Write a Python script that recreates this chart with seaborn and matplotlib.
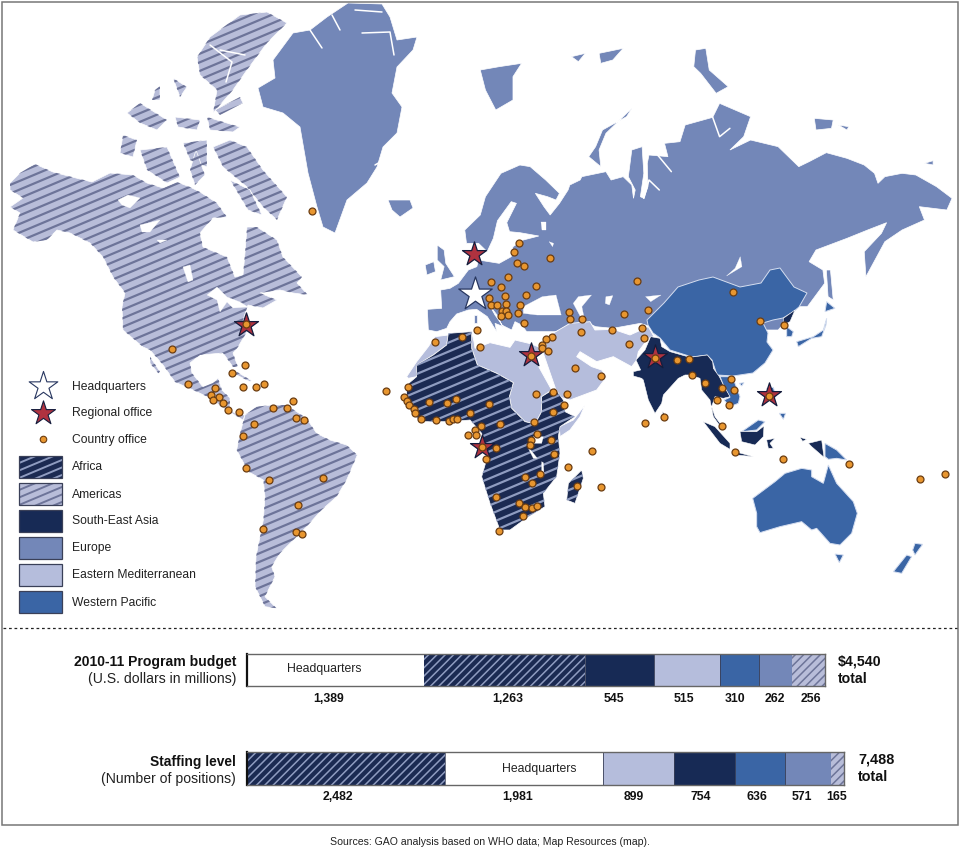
import matplotlib
matplotlib.use("Agg")
import matplotlib.pyplot as plt
import numpy as np
import pandas as pd
import seaborn as sns
from matplotlib.collections import LineCollection
from matplotlib.patches import PathPatch, Polygon, Rectangle
from matplotlib.path import Path

# ---------- data ----------
budget_regions = ["Headquarters", "Africa", "South-East Asia", "Eastern Mediterranean", "Western Pacific", "Europe", "Americas"]
budget_values = [1389, 1263, 545, 515, 310, 262, 256]
budget_label_x = [329, 508, 614, 684, 735, 775, 811]
staff_regions = ["Africa", "Headquarters", "Eastern Mediterranean", "South-East Asia", "Western Pacific", "Europe", "Americas"]
staff_values = [2482, 1981, 899, 754, 636, 571, 165]
staff_label_x = [338, 518, 634, 701, 757, 802, 837]
legend_labels = ["Africa", "Americas", "South-East Asia", "Europe", "Eastern Mediterranean", "Western Pacific"]

hq_office = [(475, 294)]
regional_offices = [(474, 254), (531, 355), (482, 447), (655, 357), (769, 395), (246, 325)]

# country offices, read in three crops of the map
offices_africa_eur = [(358,68),(342,97),(450,113),(352,128),(371,139),(272,185),(325,171),(303,201),(407,197),(711,184),(314,229),(377,225),(268,235),(273,254),(291,255),(317,252),(359,255),(305,272),(318,272),(353,278),(324,284),(302,288),(507,277),(510,297),(545,296),(673,281),(745,271),(373,310),(231,331),(543,337),(637,331),(726,324),(732,354),(185,350),(104,366),(240,380),(455,351),(437,358),(427,374),(427,385),(444,394),(393,407),(688,373),(524,445),(604,468),(24,502),(12,530),(21,542),(27,555),(41,568),(45,578),(88,546),(140,550),(169,538),(268,552),(409,523),(459,516),(501,523),(492,555),(458,576),(210,578),(64,598),(109,599),(148,604),(160,598),(172,596),(243,618),(300,612),(401,607),(225,630),(227,645),(205,646),(245,682),(411,642),(394,659),(453,659),(391,675),(288,685),(463,701),(257,716),(504,740),(575,693),(375,770),(420,761),(396,790),(530,799),(603,801),(288,832),(358,849),(375,860),(397,863),(410,859),(370,888),(298,933),(830,420),(867,417),(877,465),(736,608),(792,590),(765,413)]
offices_americas = [(67,28),(285,76),(245,98),(113,131),(280,141),(319,140),(341,132),(196,145),(183,164),(207,170),(190,180),(219,189),(233,209),(268,216),(430,182),(368,203),(411,205),(438,233),(463,240),(313,251),(278,289),(288,384),(358,421),(519,414),(443,494),(338,567),(437,577),(455,581),(708,152)]
offices_asia = [(420,63),(492,75),(254,250),(334,237),(307,263),(341,269),(290,300),(327,316),(305,377),(344,457),(490,477),(688,491),(899,536),(974,523),(447,287)]
offices_px = [(312, 211), (246, 324), (733, 292)]

# ---------- crop-to-picture helpers ----------
def c3(p): return [(400 + x / 3, 220 + y / 3) for x, y in p]
def c5(p): return [(150 + x / 3, 340 + y / 3) for x, y in p]
def c6(p): return [(420 + x / 2.904, 30 + y / 3) for x, y in p]
def c7(p): return [(620 + x / 3, 300 + y / 3) for x, y in p]

# ---------- map outlines ----------
americas_shapes = [
    [(10,183),(20,173),(35,164),(53,172),(72,177),(92,182),(110,173),(133,175),(147,183),(163,188),(177,182),(190,187),(200,192),(217,203),(227,217),(213,218),(200,233),(203,247),(227,257),(235,277),(243,275),(245,253),(247,227),(257,227),(277,240),(283,257),(302,277),(297,283),(308,295),(293,293),(280,290),(260,293),(277,300),(263,308),(248,305),(243,320),(248,330),(238,347),(233,353),(238,367),(233,367),(223,353),(200,355),(190,363),(192,373),(203,387),(213,383),(218,378),(222,390),(230,398),(230,410),(238,415),(245,415),(243,420),(223,408),(210,398),(193,390),(175,382),(163,365),(150,350),(143,347),(123,330),(122,307),(125,293),(113,277),(103,257),(90,243),(70,233),(57,230),(47,240),(33,242),(13,230),(20,213),(10,207),(23,198),(10,190)],
    [(213,147),(230,140),(247,147),(263,170),(287,197),(277,220),(263,207),(247,187),(223,167)],
    [(120,153),(123,135),(137,140),(133,157)],
    [(140,150),(167,147),(180,177),(167,183),(147,170)],
    [(183,143),(207,140),(207,167),(190,160)],
    [(127,113),(140,103),(167,120),(157,130),(140,123)],
    [(207,117),(240,127),(233,132),(210,130)],
    [(175,117),(200,120),(197,130),(178,127)],
    [(215,110),(240,97),(243,103),(220,115)],
    [(173,78),(187,87),(180,97)],
    [(155,90),(160,86),(160,100),(152,100)],
    [(197,57),(210,37),(240,15),(267,12),(287,23),(267,43),(247,70),(233,90),(213,113),(217,90),(200,75)],
    [(196,150),(205,175),(195,185),(190,170)],
    [(230,180),(250,190),(262,215),(248,210)],
    c5([(320,200),(365,195),(410,195),(470,235),(500,280),(540,300),(590,315),(622,345),(590,420),(560,470),(515,510),(470,560),(440,590),(390,640),(365,680),(375,710),(345,770),(380,805),(345,800),(315,740),(318,650),(340,540),(345,470),(340,420),(295,395),(260,330),(270,280),(285,225)]),
    c5([(255,92),(305,122),(300,125),(250,100)]),
    c5([(0,50),(30,95),(25,100),(0,70)]),
]
greenland = [(348,3),(382,4),(390,17),(397,40),(417,37),(413,50),(397,67),(392,93),(402,107),(397,133),(383,147),(377,167),(367,183),(347,200),(335,233),(323,227),(317,207),(308,173),(300,127),(283,113),(263,107),(258,88),(275,78),(273,60),(293,33),(310,30),(327,17)]
eurasia_west = c3([(85,330),(82,268),(125,265),(122,210),(150,205),(175,190),(205,150)])
eurasia_north = c6([(165,710),(170,690),(230,700),(265,680),(270,650),(300,630),(345,618),(290,608),(260,605),(252,578),(280,520),(265,515),(225,572),(213,625),(195,665),(170,640),(135,640),(130,600),(175,555),(190,500),(235,430),(290,405),(320,410),(365,450),(405,490),(395,510),(370,500),(335,490),(360,530),(378,555),(405,520),(430,480),(435,465),(465,450),(470,440),(540,425),(555,450),(590,440),(615,465),(620,505),(625,480),(605,440),(615,360),(645,350),(650,430),(640,500),(650,505),(662,470),(660,400),(665,375),(720,380),(710,340),(755,335),(770,285),(850,262),(870,220),(960,260),(940,320),(900,360),(960,330),(1040,350),(1100,410),(1130,395),(1180,368),(1240,385),(1290,405),(1320,430),(1330,460),(1350,440),(1400,430),(1440,435),(1500,470),(1545,505),(1530,540),(1450,530),(1465,570),(1400,600),(1350,635),(1295,740),(1290,665),(1340,610),(1355,578),(1300,600),(1240,625),(1150,660),(1130,695),(1170,720),(1175,760),(1125,830),(1100,830),(1040,900),(700,900),(640,880),(560,895),(510,890),(480,875)])
eurasia_south = c3([(530,320),(470,335),(380,335),(365,315),(345,305),(335,330),(305,315),(295,290),(270,258),(285,285),(310,320),(285,310),(290,335),(262,290),(230,268),(205,270),(170,282),(150,305),(140,325),(110,335)])
europe_shapes = [
    greenland,
    [(388,200),(410,200),(413,208),(400,217),(392,210)],
    eurasia_west + eurasia_north + eurasia_south,
    c6([(50,645),(70,660),(75,700),(100,740),(60,750),(70,710),(50,690)]),
    c6([(15,705),(40,695),(45,725),(20,735)]),
    c6([(175,120),(230,110),(295,100),(270,140),(270,210),(220,240),(190,180)]),
    c6([(615,235),(600,260),(530,300),(510,350),(490,380),(525,410),(520,360),(540,310)]),
    c6([(1180,720),(1192,720),(1200,810),(1185,800)]),
    c6([(1465,400),(1490,392),(1490,405)]),
    c6([(800,60),(830,55),(840,120),(895,170),(860,190),(815,130),(795,110)]),
    c6([(1145,265),(1200,270),(1195,295),(1150,300)]),
    c6([(440,80),(480,70),(460,95)]),
    c6([(520,70),(590,55),(560,90),(525,100)]),
    c6([(1215,285),(1245,290),(1240,300)]),
    c3([(222,285),(230,285),(230,308),(222,308)]),
]
wpac_shapes = [
    [(647,320),(664,303),(678,287),(699,280),(713,277),(740,287),(761,283),(770,270),(780,268),(794,287),(807,293),(799,307),(793,312),(783,318),(773,320),(763,323),(768,333),(767,342),(773,350),(765,363),(753,373),(733,376),(717,375),(712,360),(707,355),(692,357),(670,350),(660,338),(653,333),(648,325)],
    c7([(620,5),(645,25),(615,35)]),
    c7([(620,55),(610,90),(580,110),(530,125),(535,140),(575,115),(605,110),(618,75)]),
    c7([(500,80),(520,95),(515,110),(500,110)]),
    c7([(300,230),(335,230),(345,250),(360,290),(355,310),(330,320),(312,300),(330,292),(310,255)]),
    c7([(365,395),(415,360),(435,365),(410,390)]),
    c7([(440,265),(460,262),(468,290),(455,300)]),
    c7([(478,340),(497,340),(490,358)]),
    c7([(615,430),(650,450),(680,480),(650,475),(625,478),(615,470)]),
    c7([(358,250),(372,248),(365,258)]),
    c7([(398,595),(465,545),(495,520),(545,505),(575,510),(575,530),(610,550),(625,495),(650,550),(700,605),(712,640),(695,700),(660,735),(630,730),(590,685),(575,690),(545,665),(480,680),(420,698),(410,680),(410,640)]),
    c7([(645,762),(670,765),(658,788)]),
    c7([(885,730),(908,733),(885,765),(878,750)]),
    c7([(860,765),(875,770),(845,820),(820,815)]),
]
sea_shapes = [
    c7([(92,110),(120,115),(125,140),(150,155),(210,172),(262,165),(278,185),(280,205),(298,230),(310,255),(330,290),(310,295),(285,290),(275,320),(285,350),(315,390),(305,385),(280,350),(270,300),(245,270),(240,235),(210,225),(195,225),(175,235),(130,285),(125,310),(105,340),(85,300),(70,240),(65,235),(40,228),(40,215),(62,210),(48,180),(75,150)]),
    c7([(250,365),(285,380),(330,430),(330,448),(300,430)]),
    c7([(360,395),(410,395),(432,378),(430,410),(405,435),(365,425)]),
    c7([(440,420),(465,415),(450,430),(460,445),(445,445)]),
    c7([(345,455),(400,470),(350,465)]),
    c7([(565,430),(605,420),(612,472),(575,440)]),
    c7([(540,412),(560,418),(548,424)]),
    c7([(490,55),(525,30),(510,65),(490,75)]),
    c7([(128,335),(136,345),(128,352)]),
]
emed_shapes = [
    c3([(20,470),(50,425),(85,380),(105,350),(145,345),(140,375),(100,405),(60,430),(50,470),(25,475)]),
    c3([(215,335),(222,365),(225,385),(270,368),(330,382),(345,360),(395,372),(425,385),(405,420),(455,510),(425,530),(425,575),(405,612),(375,605),(335,565),(328,530),(340,488),(290,460),(232,435),(215,385)]),
    c3([(478,620),(520,600),(555,555),(540,590),(510,630),(480,650)]),
    c3([(450,345),(510,310),(570,305),(585,330),(640,328),(690,345),(745,320),(762,350),(745,355),(715,395),(710,420),(695,440),(640,410),(590,425),(540,395),(530,410),(575,440),(605,450),(620,470),(590,510),(510,540),(475,530),(430,400)]),
]
africa_shapes = [
    c3([(20,495),(50,470),(50,435),(100,405),(140,375),(145,340),(215,335),(215,385),(232,435),(290,460),(340,488),(328,530),(335,565),(375,605),(405,612),(425,575),(425,530),(465,505),(490,540),(495,575),(525,590),(480,620),(475,650),(480,700),(470,770),(430,820),(435,860),(385,890),(330,930),(300,930),(270,850),(245,770),(265,700),(245,640),(210,600),(150,605),(100,605),(60,605),(40,580),(20,545)]),
    c3([(545,750),(550,775),(525,850),(500,840),(505,790)]),
]
white_shapes = [
    [(118,200),(128,195),(140,198),(130,208),(122,205)],
    [(140,225),(160,220),(150,232),(142,232)],
    [(157,240),(167,240),(160,243)],
    [(183,267),(190,265),(193,280),(188,282)],
    [(207,295),(217,287),(227,297),(240,302),(248,307),(233,308),(227,302),(220,312),(217,300)],
    c3([(400,650),(430,650),(425,670),(402,670)]),
    c3([(385,685),(392,690),(412,715),(400,715)]),
    c3([(425,725),(430,728),(432,760),(425,755)]),
    c6([(300,830),(355,800),(395,795),(410,855),(340,855),(300,850)]),
    c6([(460,800),(498,795),(470,830),(480,880),(470,868),(445,820)]),
    c6([(540,800),(560,797),(550,825),(538,820)]),
    c6([(655,800),(700,795),(670,815)]),
    c6([(930,680),(935,710),(890,738),(915,715)]),
    c6([(350,575),(365,575),(365,600),(355,600)]),
    c6([(375,635),(388,640),(385,650)]),
]
white_lines = [
    [(362,33),(390,32),(394,55)],[(355,10),(382,12)],[(310,30),(322,48)],[(332,15),(340,30)],[(375,165),(392,155)],
    [(210,45),(232,62),(226,82)],[(220,50),(245,55)],
    c6([(850,262),(870,320),(900,295)]),
    c6([(650,505),(665,450),(695,480)]),
    c6([(690,375),(730,425)]),
]

# ---------- colours ----------
C_AFRICA, C_AFRICA_ST = "#1b2a52", "#8f9cc0"
C_AMER, C_AMER_ST = "#b8bdd9", "#6d7499"
C_SEA, C_EUR, C_EMED, C_WPAC = "#172a55", "#7387b8", "#b5bddc", "#3a65a5"
colors = {"Africa": C_AFRICA, "Americas": C_AMER, "South-East Asia": C_SEA, "Europe": C_EUR,
          "Eastern Mediterranean": C_EMED, "Western Pacific": C_WPAC, "Headquarters": "white"}
hatches = {"Africa": C_AFRICA_ST, "Americas": C_AMER_ST}

sns.set_theme(style="white")
plt.rcParams["font.family"] = ["Liberation Sans", "DejaVu Sans"]
plt.rcParams["hatch.linewidth"] = 1.1

W, H = 960, 852
fig = plt.figure(figsize=(W / 100, H / 100), dpi=100, facecolor="white")
ax = fig.add_axes([0, 0, 1, 1])
ax.set_xlim(0, W)
ax.set_ylim(H, 0)
ax.axis("off")


def compound(shapes):
    return Path.make_compound_path(*[Path(list(s) + [s[0]], closed=True) for s in shapes])


def fill(shapes, color, z=1, edge="white", lw=0.5):
    for s in shapes:
        ax.add_patch(Polygon(s, closed=True, fc=color, ec=edge, lw=lw, zorder=z))


def stripes(shapes, base, stripe, lw, spacing=8.6, z=2, offset=0.0):
    fill(shapes, base, z=z, edge="white", lw=0.5)
    clip = PathPatch(compound(shapes), transform=ax.transData, fc="none", ec="none")
    ax.add_patch(clip)
    segs = [[(0, c), (W, c - 0.42 * W)] for c in np.arange(offset, H + 0.42 * W + spacing, spacing)]
    lc = LineCollection(segs, colors=stripe, linewidths=lw, zorder=z + 0.1)
    ax.add_collection(lc, autolim=False)
    lc.set_clip_path(clip)


fill(europe_shapes, C_EUR, z=1)
fill(wpac_shapes, C_WPAC, z=1.5, edge="#d5def0", lw=0.7)
fill(emed_shapes, C_EMED, z=1.6, edge="white", lw=0.6)
fill(sea_shapes, C_SEA, z=1.7, edge="white", lw=0.4)
stripes(americas_shapes, C_AMER, C_AMER_ST, 1.6)
stripes(africa_shapes, C_AFRICA, C_AFRICA_ST, 1.6, spacing=9.0)
fill(white_shapes, "white", z=3, edge="white", lw=0.2)
for line in white_lines:
    xs, ys = zip(*line)
    ax.plot(xs, ys, color="white", lw=1.1, zorder=3)

# offices
country = pd.DataFrame(c3(offices_africa_eur) + c5(offices_americas) + c7(offices_asia) + offices_px, columns=["x", "y"])
regional = pd.DataFrame(regional_offices, columns=["x", "y"])
hq = pd.DataFrame(hq_office, columns=["x", "y"])
sns.scatterplot(data=hq, x="x", y="y", marker="*", s=640, color="white", edgecolor="#27365f", linewidth=0.9, ax=ax, zorder=5)
sns.scatterplot(data=regional, x="x", y="y", marker="*", s=330, color="#b0323f", edgecolor="#141c3c", linewidth=0.9, ax=ax, zorder=5)
sns.scatterplot(data=country, x="x", y="y", marker="o", s=25, color="#e8962f", edgecolor="#6b3d12", linewidth=0.9, ax=ax, zorder=6)

# legend
sns.scatterplot(x=[43], y=[386], marker="*", s=470, color="white", edgecolor="#27365f", linewidth=0.8, ax=ax, zorder=5)
sns.scatterplot(x=[43], y=[413], marker="*", s=330, color="#b0323f", edgecolor="#141c3c", linewidth=0.8, ax=ax, zorder=5)
sns.scatterplot(x=[43], y=[439], marker="o", s=22, color="#e8962f", edgecolor="#6b3d12", linewidth=0.8, ax=ax, zorder=5)
for lab, yy in zip(["Headquarters", "Regional office", "Country office"], [387, 413, 439.5]):
    ax.text(72, yy, lab, fontsize=8.75, color="#222", va="center", ha="left")
for i, lab in enumerate(legend_labels):
    top = 456 + i * 27
    rect = [(19, top), (62, top), (62, top + 22), (19, top + 22)]
    if lab in hatches:
        stripes([rect], colors[lab], hatches[lab], 1.4, spacing=7.5, z=4, offset=top % 7.5)
    else:
        ax.add_patch(Polygon(rect, closed=True, fc=colors[lab], ec="none", zorder=4))
    ax.add_patch(Rectangle((19, top), 43, 22, fc="none", ec="#3a4058", lw=0.9, zorder=4.5))
    ax.text(72, top + 11.5, lab, fontsize=8.75, color="#222", va="center", ha="left")

# frame, divider
ax.add_patch(Rectangle((2, 2), 956, 822.5, fc="none", ec="#777777", lw=1.1, zorder=7, clip_on=False))
ax.plot([3, 957], [627.5, 627.5], color="#222", lw=0.9, ls=(0, (2.2, 2.2)), zorder=7)


def stacked(regions, values, x0, x1, y0, y1):
    bx = fig.add_axes([x0 / W, 1 - y1 / H, (x1 - x0) / W, (y1 - y0) / H])
    left = 0
    frame = pd.DataFrame({"region": regions, "value": values, "row": "all"})
    for _, r in frame.iterrows():
        hatched = r["region"] in hatches
        sns.barplot(x=[r["value"]], y=[r["row"]], left=left, width=1, orient="h", errorbar=None,
                    color=colors[r["region"]], saturation=1, ax=bx,
                    edgecolor=hatches[r["region"]] if hatched else "#30364f",
                    hatch="////" if hatched else None, linewidth=0 if hatched else 0.5)
        left += r["value"]
    bx.set_xlim(0, sum(values))
    bx.set_ylim(0.5, -0.5)
    bx.set_xticks([]); bx.set_yticks([])
    bx.set_xlabel(""); bx.set_ylabel("")
    for side in ["top", "bottom", "right"]:
        bx.spines[side].set_visible(True)
        bx.spines[side].set_color("#666666")
        bx.spines[side].set_linewidth(1.0)
    bx.spines["left"].set_visible(True)
    bx.spines["left"].set_color("#111111")
    bx.spines["left"].set_linewidth(1.6)
    return bx


stacked(budget_regions, budget_values, 247, 825, 654, 686)
stacked(staff_regions, staff_values, 247, 844, 752, 785)

# bar text
ax.text(236, 662, "2010-11 Program budget", fontsize=10.1, fontweight="bold", color="#111", ha="right", va="center")
ax.text(236, 678.5, "(U.S. dollars in millions)", fontsize=10.1, color="#222", ha="right", va="center")
ax.text(236, 762, "Staffing level", fontsize=9.9, fontweight="bold", color="#111", ha="right", va="center")
ax.text(236, 778.5, "(Number of positions)", fontsize=10.1, color="#222", ha="right", va="center")
txt = fig.add_axes([0, 0, 1, 1], facecolor="none")
txt.set_xlim(0, W); txt.set_ylim(H, 0); txt.axis("off")
txt.text(324, 669, "Headquarters", fontsize=8.8, color="#222", ha="center", va="center")
txt.text(539, 769, "Headquarters", fontsize=8.8, color="#222", ha="center", va="center")
for xx, v in zip(budget_label_x, budget_values):
    txt.text(xx, 698.5, f"{v:,}", fontsize=8.8, fontweight="bold", color="#111", ha="center", va="center")
for xx, v in zip(staff_label_x, staff_values):
    txt.text(xx, 796.5, f"{v:,}", fontsize=8.8, fontweight="bold", color="#111", ha="center", va="center")
txt.text(838, 662, f"${sum(budget_values):,}", fontsize=10.2, fontweight="bold", color="#111", ha="left", va="center")
txt.text(838, 679, "total", fontsize=10.2, fontweight="bold", color="#111", ha="left", va="center")
txt.text(858, 760, f"{sum(staff_values):,}", fontsize=10.4, fontweight="bold", color="#111", ha="left", va="center")
txt.text(858, 777, "total", fontsize=10.4, fontweight="bold", color="#111", ha="left", va="center")
txt.text(490, 842, "Sources: GAO analysis based on WHO data; Map Resources (map).", fontsize=7.6, color="#222", ha="center", va="center")

fig.savefig("out.png", dpi=100, facecolor="white")
